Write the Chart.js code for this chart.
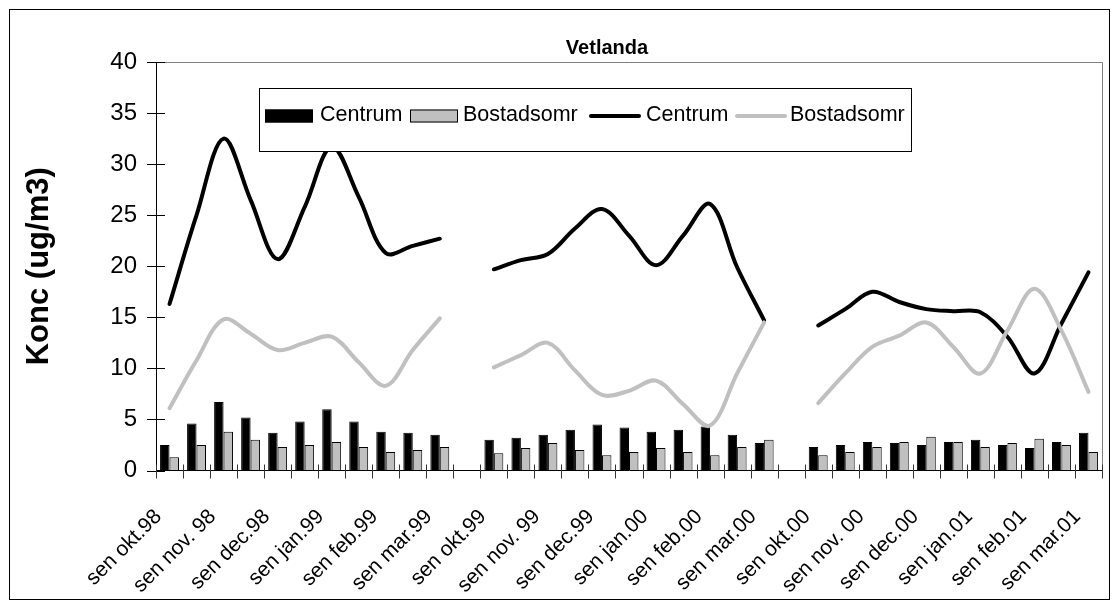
<!DOCTYPE html>
<html>
<head>
<meta charset="utf-8">
<script src="https://cdn.jsdelivr.net/npm/chart.js@4/dist/chart.umd.min.js"></script>
<style>
  html, body { margin: 0; padding: 0; background: #fff; }
  #wrap { width: 1112px; height: 607px; position: relative; }
</style>
</head>
<body>
<div id="wrap"><canvas id="c" width="1112" height="607"></canvas></div>
<script>
// Half-month periods over three winter seasons; an empty slot separates the seasons.
const categories = [
  'sen okt.98', 'tid nov.98', 'sen nov. 98', 'tid dec.98', 'sen dec.98', 'tid jan.99',
  'sen jan.99', 'tid feb.99', 'sen feb.99', 'tid mar.99', 'sen mar.99', '',
  'sen okt.99', 'tid nov.99', 'sen nov. 99', 'tid dec.99', 'sen dec.99', 'tid jan.00',
  'sen jan.00', 'tid feb.00', 'sen feb.00', 'tid mar.00', 'sen mar.00', '',
  'sen okt.00', 'tid nov.00', 'sen nov. 00', 'tid dec.00', 'sen dec.00', 'tid jan.01',
  'sen jan.01', 'tid feb.01', 'sen feb.01', 'tid mar.01', 'sen mar.01'
];

// Bars (ug/m3)
const centrumBars = [
  2.5, 4.6, 6.7, 5.2, 3.7, 4.8, 6.0, 4.8, 3.8, 3.7, 3.5, null,
  3.0, 3.2, 3.5, 4.0, 4.5, 4.2, 3.8, 4.0, 4.3, 3.5, 2.7, null,
  2.3, 2.5, 2.8, 2.7, 2.5, 2.8, 3.0, 2.5, 2.2, 2.8, 3.7
];
const bostadBars = [
  1.3, 2.5, 3.8, 3.0, 2.3, 2.5, 2.8, 2.3, 1.8, 2.0, 2.3, null,
  1.7, 2.2, 2.7, 2.0, 1.5, 1.8, 2.2, 1.8, 1.5, 2.3, 3.0, null,
  1.5, 1.8, 2.3, 2.8, 3.3, 2.8, 2.3, 2.7, 3.1, 2.5, 1.8
];

// Lines (ug/m3)
const centrumLine = [
  16.3, 25.0, 32.5, 26.5, 20.7, 25.8, 31.7, 26.8, 21.3, 22.0, 22.7, null,
  19.7, 20.6, 21.2, 23.7, 25.6, 23.0, 20.1, 23.0, 26.1, 19.9, 14.7, null,
  14.2, 15.8, 17.5, 16.5, 15.8, 15.6, 15.5, 13.1, 9.5, 14.4, 19.4
];
const bostadLine = [
  6.1, 10.8, 14.8, 13.4, 11.8, 12.5, 13.1, 10.6, 8.3, 11.8, 14.9, null,
  10.1, 11.3, 12.5, 9.8, 7.4, 7.8, 8.8, 6.5, 4.4, 9.5, 14.5, null,
  6.6, 9.5, 12.1, 13.2, 14.5, 12.1, 9.5, 13.7, 17.8, 13.7, 7.7
];

const yTicks = [0, 5, 10, 15, 20, 25, 30, 35, 40];

const FONT = "'Liberation Sans', Arial, sans-serif";
const GREY = '#c0c0c0';

// Legend entry slots: symbol left edge and text left edge, in draw order.
const legendSlots = [
  { sx: 265, tx: 320 },
  { sx: 410, tx: 463 },
  { sx: 589, tx: 646 },
  { sx: 735, tx: 790 }
];

// Frame, plot border, cross tick marks, title and the boxed legend.
const decorations = {
  id: 'decorations',
  beforeDraw(chart) {
    const { ctx, width, height } = chart;
    ctx.save();
    ctx.fillStyle = '#fff';
    ctx.fillRect(0, 0, width, height);
    ctx.restore();
  },
  afterDraw(chart) {
    const { ctx, chartArea: a } = chart;
    const xs = chart.scales.x, ys = chart.scales.y;
    ctx.save();

    // plot area border (top and right)
    ctx.strokeStyle = '#808080';
    ctx.lineWidth = 1;
    ctx.beginPath();
    ctx.moveTo(a.left, Math.round(a.top) + 0.5);
    ctx.lineTo(Math.round(a.right) + 0.5, Math.round(a.top) + 0.5);
    ctx.lineTo(Math.round(a.right) + 0.5, a.bottom);
    ctx.stroke();

    // y cross ticks
    ctx.strokeStyle = '#000';
    ctx.beginPath();
    yTicks.forEach(v => {
      const y = Math.round(ys.getPixelForValue(v)) + 0.5;
      ctx.moveTo(a.left - 9, y);
      ctx.lineTo(a.left + 9, y);
    });
    ctx.stroke();

    // x cross ticks on category boundaries
    const n = categories.length;
    const cw = (xs.right - xs.left) / n;
    ctx.strokeStyle = '#333';
    ctx.beginPath();
    for (let i = 0; i <= n; i++) {
      const x = Math.round(xs.left + i * cw) + 0.5;
      ctx.moveTo(x, a.bottom - 6);
      ctx.lineTo(x, a.bottom + 8);
    }
    ctx.stroke();

    // title
    ctx.fillStyle = '#000';
    ctx.font = 'bold 20px ' + FONT;
    ctx.textAlign = 'center';
    ctx.textBaseline = 'middle';
    ctx.fillText('Vetlanda', 607, 48);

    // legend
    const lx = 259.5, ly = 88.5, lw = 652, lh = 63;
    ctx.fillStyle = '#fff';
    ctx.fillRect(lx, ly, lw, lh);
    ctx.strokeStyle = '#000';
    ctx.strokeRect(lx, ly, lw, lh);
    ctx.save();
    ctx.beginPath();
    ctx.rect(lx, ly, lw, lh);
    ctx.clip();
    const cy = 116;
    ctx.font = '21.5px ' + FONT;
    ctx.textAlign = 'left';
    ctx.textBaseline = 'alphabetic';
    chart.data.datasets.forEach((ds, i) => {
      const { sx, tx } = legendSlots[i];
      if (ds.type === 'bar') {
        ctx.fillStyle = ds.backgroundColor;
        ctx.fillRect(sx, cy - 6.5, 48, 13);
        ctx.strokeStyle = '#000';
        ctx.lineWidth = 1;
        ctx.strokeRect(sx + 0.5, cy - 6, 47, 12);
      } else {
        ctx.strokeStyle = ds.borderColor;
        ctx.lineWidth = 4;
        ctx.lineCap = 'round';
        ctx.beginPath();
        ctx.moveTo(sx + 2, cy);
        ctx.lineTo(sx + 50, cy);
        ctx.stroke();
      }
      ctx.fillStyle = '#000';
      ctx.fillText(ds.label, tx, 121);
    });
    ctx.restore();

    // outer frame
    ctx.strokeStyle = '#000';
    ctx.lineWidth = 1;
    ctx.strokeRect(9.5, 9.5, 1100, 590);
    ctx.restore();
  }
};

new Chart(document.getElementById('c'), {
  data: {
    labels: categories,
    datasets: [
      { type: 'bar', label: 'Centrum', data: centrumBars, backgroundColor: '#000',
        borderColor: '#000', borderWidth: 1, order: 3,
        categoryPercentage: 0.7, barPercentage: 1.0 },
      { type: 'bar', label: 'Bostadsomr', data: bostadBars, backgroundColor: GREY,
        borderColor: '#000', borderWidth: 1, order: 4,
        categoryPercentage: 0.7, barPercentage: 1.0 },
      { type: 'line', label: 'Centrum', data: centrumLine, borderColor: '#000',
        borderWidth: 4, tension: 0.35, pointRadius: 0, spanGaps: false, fill: false,
        borderCapStyle: 'round', borderJoinStyle: 'round', order: 2 },
      { type: 'line', label: 'Bostadsomr', data: bostadLine, borderColor: GREY,
        borderWidth: 4, tension: 0.35, pointRadius: 0, spanGaps: false, fill: false,
        borderCapStyle: 'round', borderJoinStyle: 'round', order: 1 }
    ]
  },
  options: {
    responsive: false,
    animation: false,
    devicePixelRatio: 1,
    layout: { padding: { left: 0, right: 10, top: 62, bottom: 0 } },
    plugins: { legend: { display: false }, title: { display: false }, tooltip: { enabled: false } },
    scales: {
      x: {
        type: 'category',
        offset: true,
        grid: { display: false },
        border: { display: true, color: '#000', width: 1 },
        ticks: {
          autoSkip: false, maxRotation: 45, minRotation: 45,
          color: '#000', font: { family: FONT, size: 21 }, padding: 26, labelOffset: -11,
          callback: (v, i) => (i % 2 === 0 ? categories[i] : '')
        },
        afterFit: s => { s.height = 136.5; s.paddingLeft = 0; s.paddingRight = 0; }
      },
      y: {
        min: 0, max: 40,
        afterBuildTicks: s => { s.ticks = yTicks.map(v => ({ value: v })); },
        grid: { drawOnChartArea: false, drawTicks: false },
        border: { display: true, color: '#000', width: 1 },
        ticks: { color: '#000', font: { family: FONT, size: 24 }, padding: 19 },
        title: { display: true, text: 'Konc (ug/m3)', color: '#000',
                 font: { family: FONT, size: 31, weight: 'bold' }, padding: { top: 21, bottom: 0 } },
        afterFit: s => { s.width = 156; s.paddingTop = 0; s.paddingBottom = 0; }
      }
    }
  },
  plugins: [decorations]
});
</script>
</body>
</html>
